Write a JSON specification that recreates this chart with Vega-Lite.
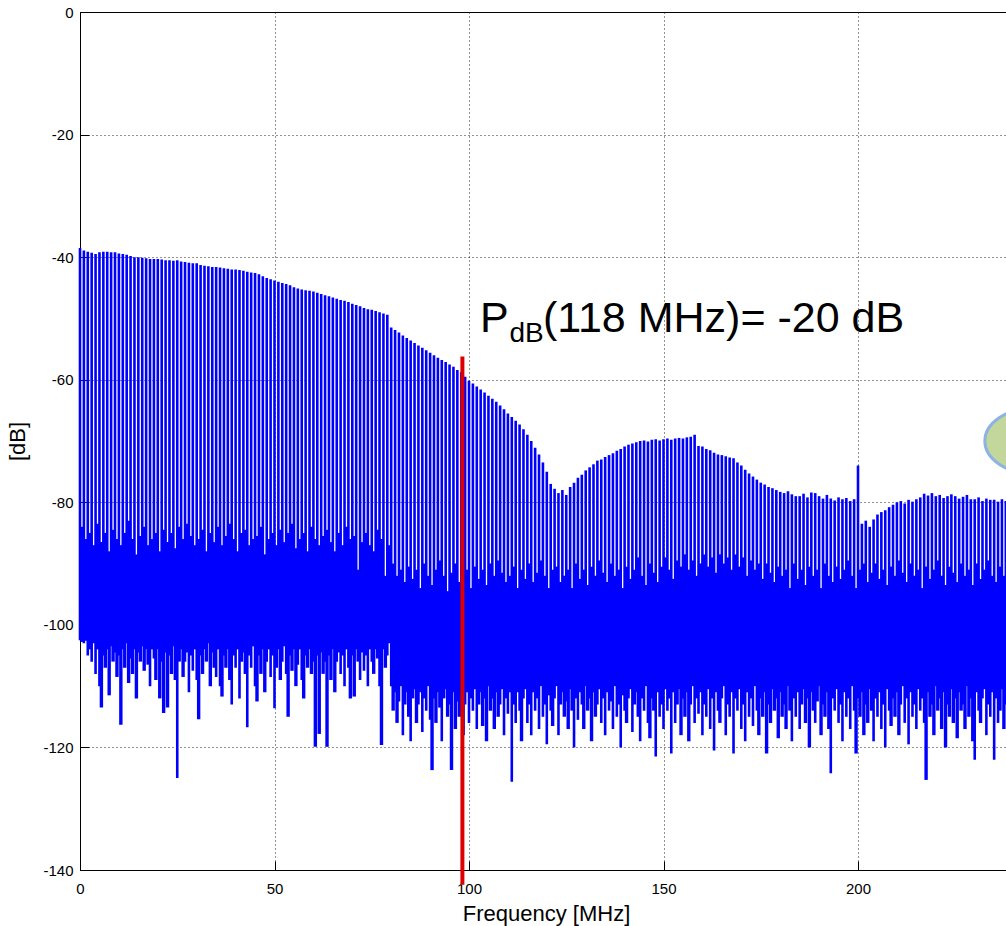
{
"$schema":"https://vega.github.io/schema/vega-lite/v6.json",
"width":927,"height":858,
"autosize":{"type":"none"},
"padding":{"left":80,"top":12,"right":0,"bottom":56},
"background":"white",
"datasets":{
"spectrum":[
{"f":0,"h":-38.5,"l":-102.5},{"f":0.5,"h":-84,"l":-102.8},{"f":1,"h":-38.9,"l":-103},{"f":1.5,"h":-86,"l":-102.6},{"f":2,"h":-39.1,"l":-105},{"f":2.5,"h":-85,"l":-104},{"f":3,"h":-39.3,"l":-106},{"f":3.5,"h":-87,"l":-103},{"f":4,"h":-39.5,"l":-108},{"f":4.5,"h":-83.5,"l":-104},
{"f":5,"h":-39.2,"l":-110},{"f":5.5,"h":-86.5,"l":-113.5},{"f":6,"h":-39.1,"l":-105},{"f":6.5,"h":-85,"l":-107},{"f":7,"h":-39.1,"l":-104},{"f":7.5,"h":-88,"l":-111.5},{"f":8,"h":-39.2,"l":-103.5},{"f":8.5,"h":-84.5,"l":-106},{"f":9,"h":-39.2,"l":-104.5},{"f":9.5,"h":-86,"l":-108.5},
{"f":10,"h":-39.4,"l":-105},{"f":10.5,"h":-87,"l":-116.3},{"f":11,"h":-39.5,"l":-104},{"f":11.5,"h":-85,"l":-107},{"f":12,"h":-39.6,"l":-103},{"f":12.5,"h":-83,"l":-109.5},{"f":13,"h":-39.8,"l":-105.5},{"f":13.5,"h":-86,"l":-108},{"f":14,"h":-40.0,"l":-104},{"f":14.5,"h":-88.5,"l":-112},
{"f":15,"h":-40.0,"l":-104.5},{"f":15.5,"h":-85.5,"l":-106},{"f":16,"h":-40.1,"l":-103.5},{"f":16.5,"h":-84,"l":-107.5},{"f":17,"h":-40.2,"l":-104},{"f":17.5,"h":-87,"l":-106.5},{"f":18,"h":-40.3,"l":-110},{"f":18.5,"h":-86,"l":-104},{"f":19,"h":-40.3,"l":-105.5},{"f":19.5,"h":-85,"l":-109},
{"f":20,"h":-40.3,"l":-104},{"f":20.5,"h":-88,"l":-112},{"f":21,"h":-40.4,"l":-106},{"f":21.5,"h":-84.5,"l":-114.4},{"f":22,"h":-40.5,"l":-104.5},{"f":22.5,"h":-86.5,"l":-113.5},{"f":23,"h":-40.5,"l":-105},{"f":23.5,"h":-85,"l":-108},{"f":24,"h":-40.6,"l":-103.5},{"f":24.5,"h":-87.5,"l":-109},
{"f":25,"h":-40.5,"l":-125},{"f":25.5,"h":-84,"l":-106},{"f":26,"h":-40.7,"l":-104},{"f":26.5,"h":-86,"l":-108.5},{"f":27,"h":-40.8,"l":-106},{"f":27.5,"h":-83.5,"l":-104.5},{"f":28,"h":-40.9,"l":-111},{"f":28.5,"h":-85.5,"l":-105},{"f":29,"h":-41.0,"l":-107.5},{"f":29.5,"h":-87,"l":-104},
{"f":30,"h":-41.0,"l":-109},{"f":30.5,"h":-86,"l":-115.4},{"f":31,"h":-41.3,"l":-105},{"f":31.5,"h":-84.5,"l":-108},{"f":32,"h":-41.4,"l":-104},{"f":32.5,"h":-88,"l":-106},{"f":33,"h":-41.5,"l":-103},{"f":33.5,"h":-85,"l":-110},{"f":34,"h":-41.6,"l":-104.5},{"f":34.5,"h":-86.5,"l":-107},
{"f":35,"h":-41.6,"l":-108.5},{"f":35.5,"h":-84,"l":-104},{"f":36,"h":-41.7,"l":-110},{"f":36.5,"h":-87,"l":-111.7},{"f":37,"h":-41.8,"l":-105},{"f":37.5,"h":-85.5,"l":-107},{"f":38,"h":-41.9,"l":-104},{"f":38.5,"h":-83.5,"l":-109},{"f":39,"h":-42.0,"l":-113},{"f":39.5,"h":-86,"l":-105},
{"f":40,"h":-42.0,"l":-107},{"f":40.5,"h":-88,"l":-104},{"f":41,"h":-42.1,"l":-112},{"f":41.5,"h":-85,"l":-106},{"f":42,"h":-42.2,"l":-104.5},{"f":42.5,"h":-84.5,"l":-108},{"f":43,"h":-42.4,"l":-116.7},{"f":43.5,"h":-87,"l":-105},{"f":44,"h":-42.5,"l":-107},{"f":44.5,"h":-86,"l":-103.5},
{"f":45,"h":-42.6,"l":-110},{"f":45.5,"h":-85.5,"l":-112.5},{"f":46,"h":-42.8,"l":-105},{"f":46.5,"h":-84,"l":-108},{"f":47,"h":-43.1,"l":-104},{"f":47.5,"h":-88.5,"l":-111},{"f":48,"h":-43.4,"l":-106},{"f":48.5,"h":-86,"l":-104},{"f":49,"h":-43.6,"l":-108.5},{"f":49.5,"h":-85,"l":-105},
{"f":50,"h":-43.8,"l":-113.6},{"f":50.5,"h":-87,"l":-107},{"f":51,"h":-44.0,"l":-104},{"f":51.5,"h":-84.5,"l":-109},{"f":52,"h":-44.2,"l":-106},{"f":52.5,"h":-86.5,"l":-103.5},{"f":53,"h":-44.4,"l":-108},{"f":53.5,"h":-85,"l":-115},{"f":54,"h":-44.6,"l":-105},{"f":54.5,"h":-83.5,"l":-107.5},
{"f":55,"h":-44.9,"l":-104},{"f":55.5,"h":-87.5,"l":-110},{"f":56,"h":-45.1,"l":-106.5},{"f":56.5,"h":-86,"l":-104},{"f":57,"h":-45.3,"l":-109},{"f":57.5,"h":-85,"l":-112},{"f":58,"h":-45.4,"l":-105},{"f":58.5,"h":-88,"l":-107},{"f":59,"h":-45.5,"l":-104},{"f":59.5,"h":-84,"l":-108},
{"f":60,"h":-45.6,"l":-106},{"f":60.5,"h":-86,"l":-119.9},{"f":61,"h":-45.8,"l":-105},{"f":61.5,"h":-87,"l":-117.8},{"f":62,"h":-46.0,"l":-104.5},{"f":62.5,"h":-85.5,"l":-108},{"f":63,"h":-46.2,"l":-106},{"f":63.5,"h":-84.5,"l":-119.9},{"f":64,"h":-46.4,"l":-105},{"f":64.5,"h":-86.5,"l":-109},
{"f":65,"h":-46.6,"l":-104},{"f":65.5,"h":-88,"l":-111},{"f":66,"h":-46.8,"l":-106},{"f":66.5,"h":-85,"l":-104.5},{"f":67,"h":-47.0,"l":-108},{"f":67.5,"h":-87,"l":-105},{"f":68,"h":-47.1,"l":-110},{"f":68.5,"h":-84,"l":-104},{"f":69,"h":-47.3,"l":-107},{"f":69.5,"h":-86,"l":-112},
{"f":70,"h":-47.6,"l":-105},{"f":70.5,"h":-85.5,"l":-111.7},{"f":71,"h":-47.8,"l":-104},{"f":71.5,"h":-91,"l":-106},{"f":72,"h":-48.0,"l":-109},{"f":72.5,"h":-86.5,"l":-104.5},{"f":73,"h":-48.3,"l":-107.5},{"f":73.5,"h":-85,"l":-105},{"f":74,"h":-48.5,"l":-110},{"f":74.5,"h":-87,"l":-104},
{"f":75,"h":-48.6,"l":-106},{"f":75.5,"h":-88,"l":-108},{"f":76,"h":-48.8,"l":-104},{"f":76.5,"h":-84.5,"l":-105.5},{"f":77,"h":-49.0,"l":-110},{"f":77.5,"h":-86,"l":-119.6},{"f":78,"h":-49.2,"l":-104},{"f":78.5,"h":-92,"l":-107},{"f":79,"h":-49.4,"l":-105},{"f":79.5,"h":-87,"l":-103},
{"f":80,"h":-51.5,"l":-110},{"f":80.5,"h":-90,"l":-114},{"f":81,"h":-51.9,"l":-111},{"f":81.5,"h":-92,"l":-116},{"f":82,"h":-52.3,"l":-112.5},{"f":82.5,"h":-91,"l":-110},{"f":83,"h":-52.8,"l":-118},{"f":83.5,"h":-93,"l":-113},{"f":84,"h":-53.2,"l":-111},{"f":84.5,"h":-90.5,"l":-115},
{"f":85,"h":-53.6,"l":-119},{"f":85.5,"h":-92.5,"l":-112},{"f":86,"h":-54.0,"l":-110.5},{"f":86.5,"h":-91,"l":-116},{"f":87,"h":-54.4,"l":-113},{"f":87.5,"h":-94,"l":-111},{"f":88,"h":-54.8,"l":-117.5},{"f":88.5,"h":-90,"l":-112},{"f":89,"h":-55.2,"l":-114},{"f":89.5,"h":-92,"l":-110},
{"f":90,"h":-55.6,"l":-115.5},{"f":90.5,"h":-93.5,"l":-123.7},{"f":91,"h":-56.0,"l":-112},{"f":91.5,"h":-91,"l":-116},{"f":92,"h":-56.4,"l":-111},{"f":92.5,"h":-89.5,"l":-113.5},{"f":93,"h":-56.8,"l":-119},{"f":93.5,"h":-92,"l":-112},{"f":94,"h":-57.1,"l":-110.5},{"f":94.5,"h":-94.5,"l":-115},
{"f":95,"h":-57.5,"l":-113},{"f":95.5,"h":-91.5,"l":-123.7},{"f":96,"h":-57.9,"l":-111},{"f":96.5,"h":-90,"l":-117},{"f":97,"h":-58.4,"l":-112.5},{"f":97.5,"h":-93,"l":-115},{"f":98,"h":-58.8,"l":-110},{"f":98.5,"h":-92,"l":-118},{"f":99,"h":-59.5,"l":-113},{"f":99.5,"h":-91,"l":-111},
{"f":100,"h":-60.2,"l":-116},{"f":100.5,"h":-94,"l":-112},{"f":101,"h":-60.6,"l":-114},{"f":101.5,"h":-90.5,"l":-110.5},{"f":102,"h":-61.1,"l":-117},{"f":102.5,"h":-92.5,"l":-113},{"f":103,"h":-61.6,"l":-111},{"f":103.5,"h":-91,"l":-116.5},{"f":104,"h":-62.1,"l":-112},{"f":104.5,"h":-93.5,"l":-119},
{"f":105,"h":-62.6,"l":-110},{"f":105.5,"h":-90,"l":-114},{"f":106,"h":-63.1,"l":-112},{"f":106.5,"h":-92,"l":-117},{"f":107,"h":-63.6,"l":-111},{"f":107.5,"h":-89.5,"l":-115},{"f":108,"h":-64.2,"l":-113},{"f":108.5,"h":-91.5,"l":-110.5},{"f":109,"h":-64.8,"l":-118},{"f":109.5,"h":-93,"l":-112},
{"f":110,"h":-65.5,"l":-114.5},{"f":110.5,"h":-92,"l":-111},{"f":111,"h":-66.1,"l":-125.6},{"f":111.5,"h":-90.5,"l":-113},{"f":112,"h":-66.7,"l":-116},{"f":112.5,"h":-94,"l":-111},{"f":113,"h":-67.3,"l":-114},{"f":113.5,"h":-91,"l":-119},{"f":114,"h":-68.1,"l":-112},{"f":114.5,"h":-92.5,"l":-110.5},
{"f":115,"h":-69.0,"l":-116},{"f":115.5,"h":-90,"l":-113},{"f":116,"h":-70.0,"l":-118},{"f":116.5,"h":-93,"l":-111},{"f":117,"h":-71.1,"l":-114},{"f":117.5,"h":-91.5,"l":-112},{"f":118,"h":-72.2,"l":-117},{"f":118.5,"h":-89.5,"l":-110},{"f":119,"h":-73.5,"l":-115},{"f":119.5,"h":-92,"l":-113},
{"f":120,"h":-75.0,"l":-119.5},{"f":120.5,"h":-94,"l":-111.5},{"f":121,"h":-77.0,"l":-114},{"f":121.5,"h":-91,"l":-116.5},{"f":122,"h":-77.8,"l":-112},{"f":122.5,"h":-90.5,"l":-110},{"f":123,"h":-78.5,"l":-118},{"f":123.5,"h":-93,"l":-113},{"f":124,"h":-78.0,"l":-111},{"f":124.5,"h":-92,"l":-115},
{"f":125,"h":-78.8,"l":-112.5},{"f":125.5,"h":-91,"l":-117},{"f":126,"h":-77.5,"l":-110.5},{"f":126.5,"h":-94,"l":-114},{"f":127,"h":-76.8,"l":-120},{"f":127.5,"h":-90,"l":-112},{"f":128,"h":-76.0,"l":-115.5},{"f":128.5,"h":-92.5,"l":-111},{"f":129,"h":-75.5,"l":-113},{"f":129.5,"h":-91,"l":-117},
{"f":130,"h":-74.8,"l":-110},{"f":130.5,"h":-93.5,"l":-114},{"f":131,"h":-74.3,"l":-112},{"f":131.5,"h":-90.5,"l":-119},{"f":132,"h":-73.8,"l":-111},{"f":132.5,"h":-92,"l":-115},{"f":133,"h":-73.2,"l":-113},{"f":133.5,"h":-89.5,"l":-110.5},{"f":134,"h":-73.0,"l":-116},{"f":134.5,"h":-91.5,"l":-112},
{"f":135,"h":-72.6,"l":-118},{"f":135.5,"h":-93,"l":-111},{"f":136,"h":-72.3,"l":-114},{"f":136.5,"h":-90,"l":-112.5},{"f":137,"h":-72.0,"l":-117},{"f":137.5,"h":-92,"l":-110},{"f":138,"h":-71.6,"l":-115},{"f":138.5,"h":-91,"l":-113},{"f":139,"h":-71.3,"l":-120},{"f":139.5,"h":-94,"l":-111.5},
{"f":140,"h":-70.9,"l":-114},{"f":140.5,"h":-90.5,"l":-116},{"f":141,"h":-70.6,"l":-112},{"f":141.5,"h":-92.5,"l":-110.5},{"f":142,"h":-70.4,"l":-117.5},{"f":142.5,"h":-91,"l":-113},{"f":143,"h":-70.2,"l":-111},{"f":143.5,"h":-89,"l":-115},{"f":144,"h":-70.0,"l":-119},{"f":144.5,"h":-92,"l":-112},
{"f":145,"h":-69.9,"l":-114},{"f":145.5,"h":-93.5,"l":-110},{"f":146,"h":-70.1,"l":-116},{"f":146.5,"h":-90,"l":-118.5},{"f":147,"h":-69.8,"l":-112},{"f":147.5,"h":-91.5,"l":-114},{"f":148,"h":-69.7,"l":-121.5},{"f":148.5,"h":-93,"l":-111},{"f":149,"h":-69.9,"l":-115},{"f":149.5,"h":-90.5,"l":-113},
{"f":150,"h":-69.7,"l":-117},{"f":150.5,"h":-89,"l":-110.5},{"f":151,"h":-69.6,"l":-114},{"f":151.5,"h":-91,"l":-112},{"f":152,"h":-69.8,"l":-121},{"f":152.5,"h":-92.5,"l":-111},{"f":153,"h":-69.6,"l":-116},{"f":153.5,"h":-89.5,"l":-113},{"f":154,"h":-69.5,"l":-110.5},{"f":154.5,"h":-90.5,"l":-118},
{"f":155,"h":-69.6,"l":-112},{"f":155.5,"h":-88.5,"l":-115},{"f":156,"h":-69.4,"l":-111},{"f":156.5,"h":-91,"l":-119},{"f":157,"h":-69.3,"l":-113},{"f":157.5,"h":-89.5,"l":-110},{"f":158,"h":-69.0,"l":-116},{"f":158.5,"h":-92,"l":-112},{"f":159,"h":-70.8,"l":-114.5},{"f":159.5,"h":-90,"l":-111},
{"f":160,"h":-70.9,"l":-118},{"f":160.5,"h":-88.5,"l":-113},{"f":161,"h":-71.3,"l":-115},{"f":161.5,"h":-90.5,"l":-110.5},{"f":162,"h":-71.5,"l":-117},{"f":162.5,"h":-89,"l":-112},{"f":163,"h":-71.9,"l":-120.5},{"f":163.5,"h":-91.5,"l":-111},{"f":164,"h":-72.2,"l":-114},{"f":164.5,"h":-88.5,"l":-116},
{"f":165,"h":-72.3,"l":-112},{"f":165.5,"h":-90,"l":-110},{"f":166,"h":-72.5,"l":-118},{"f":166.5,"h":-89,"l":-113},{"f":167,"h":-72.7,"l":-115},{"f":167.5,"h":-91,"l":-111},{"f":168,"h":-72.8,"l":-121},{"f":168.5,"h":-88.5,"l":-112},{"f":169,"h":-73.5,"l":-114},{"f":169.5,"h":-90.5,"l":-110.5},
{"f":170,"h":-74.0,"l":-117},{"f":170.5,"h":-89,"l":-113},{"f":171,"h":-74.7,"l":-119},{"f":171.5,"h":-92,"l":-111},{"f":172,"h":-75.3,"l":-115},{"f":172.5,"h":-89.5,"l":-112},{"f":173,"h":-75.8,"l":-116.5},{"f":173.5,"h":-91,"l":-110},{"f":174,"h":-76.3,"l":-114},{"f":174.5,"h":-90,"l":-118},
{"f":175,"h":-76.8,"l":-112},{"f":175.5,"h":-92.5,"l":-115},{"f":176,"h":-77.1,"l":-111},{"f":176.5,"h":-90,"l":-121},{"f":177,"h":-77.5,"l":-113},{"f":177.5,"h":-91.5,"l":-116},{"f":178,"h":-77.7,"l":-110.5},{"f":178.5,"h":-93,"l":-114},{"f":179,"h":-78.0,"l":-112},{"f":179.5,"h":-90.5,"l":-118.5},
{"f":180,"h":-78.3,"l":-111},{"f":180.5,"h":-92,"l":-115},{"f":181,"h":-78.5,"l":-113},{"f":181.5,"h":-91,"l":-117},{"f":182,"h":-78.2,"l":-110},{"f":182.5,"h":-94,"l":-114},{"f":183,"h":-78.7,"l":-119},{"f":183.5,"h":-90,"l":-112},{"f":184,"h":-79.0,"l":-115},{"f":184.5,"h":-92.5,"l":-111},
{"f":185,"h":-79.0,"l":-117},{"f":185.5,"h":-91,"l":-113},{"f":186,"h":-78.6,"l":-110.5},{"f":186.5,"h":-93.5,"l":-116},{"f":187,"h":-79.2,"l":-112},{"f":187.5,"h":-90.5,"l":-120},{"f":188,"h":-78.4,"l":-111},{"f":188.5,"h":-92,"l":-114},{"f":189,"h":-78.5,"l":-116},{"f":189.5,"h":-91,"l":-112.5},
{"f":190,"h":-79.0,"l":-110},{"f":190.5,"h":-94,"l":-118},{"f":191,"h":-79.4,"l":-113},{"f":191.5,"h":-90,"l":-115},{"f":192,"h":-78.8,"l":-111},{"f":192.5,"h":-92,"l":-117},{"f":193,"h":-79.4,"l":-124.2},{"f":193.5,"h":-93,"l":-112},{"f":194,"h":-79.7,"l":-114},{"f":194.5,"h":-90.5,"l":-110.5},
{"f":195,"h":-79.2,"l":-116},{"f":195.5,"h":-92.5,"l":-113},{"f":196,"h":-79.5,"l":-119},{"f":196.5,"h":-91,"l":-111},{"f":197,"h":-79.3,"l":-115},{"f":197.5,"h":-89.5,"l":-112},{"f":198,"h":-79.8,"l":-117},{"f":198.5,"h":-92,"l":-110},{"f":199,"h":-79.5,"l":-114},{"f":199.5,"h":-94,"l":-121},
{"f":200,"h":-74.0,"l":-112},{"f":200.5,"h":-91,"l":-115},{"f":201,"h":-83.5,"l":-111},{"f":201.5,"h":-90,"l":-118},{"f":202,"h":-83.0,"l":-113},{"f":202.5,"h":-93,"l":-116},{"f":203,"h":-84.0,"l":-110.5},{"f":203.5,"h":-91.5,"l":-114},{"f":204,"h":-82.8,"l":-119},{"f":204.5,"h":-90,"l":-112},
{"f":205,"h":-82.0,"l":-115},{"f":205.5,"h":-92.5,"l":-111},{"f":206,"h":-81.6,"l":-117},{"f":206.5,"h":-91,"l":-113},{"f":207,"h":-81.3,"l":-120},{"f":207.5,"h":-93.5,"l":-110.5},{"f":208,"h":-80.8,"l":-114},{"f":208.5,"h":-90.5,"l":-116.5},{"f":209,"h":-80.4,"l":-112},{"f":209.5,"h":-92,"l":-115},
{"f":210,"h":-80.0,"l":-111},{"f":210.5,"h":-89.5,"l":-118},{"f":211,"h":-79.8,"l":-113},{"f":211.5,"h":-91.5,"l":-110},{"f":212,"h":-80.2,"l":-116},{"f":212.5,"h":-93,"l":-112},{"f":213,"h":-79.6,"l":-119.5},{"f":213.5,"h":-90,"l":-111},{"f":214,"h":-79.9,"l":-115},{"f":214.5,"h":-92,"l":-113},
{"f":215,"h":-79.5,"l":-117},{"f":215.5,"h":-91,"l":-110.5},{"f":216,"h":-79.2,"l":-114},{"f":216.5,"h":-94,"l":-112},{"f":217,"h":-78.6,"l":-116},{"f":217.5,"h":-90.5,"l":-125.3},{"f":218,"h":-78.9,"l":-111},{"f":218.5,"h":-92.5,"l":-115},{"f":219,"h":-78.5,"l":-113},{"f":219.5,"h":-91,"l":-118},
{"f":220,"h":-79.0,"l":-110},{"f":220.5,"h":-89.5,"l":-114},{"f":221,"h":-78.8,"l":-112},{"f":221.5,"h":-92,"l":-117},{"f":222,"h":-79.3,"l":-111},{"f":222.5,"h":-93.5,"l":-120},{"f":223,"h":-79.0,"l":-113},{"f":223.5,"h":-90.5,"l":-115},{"f":224,"h":-78.7,"l":-110.5},{"f":224.5,"h":-91.5,"l":-116},
{"f":225,"h":-79.0,"l":-112},{"f":225.5,"h":-93,"l":-118.5},{"f":226,"h":-79.4,"l":-111},{"f":226.5,"h":-90,"l":-114},{"f":227,"h":-79.1,"l":-113},{"f":227.5,"h":-92,"l":-117},{"f":228,"h":-78.8,"l":-110},{"f":228.5,"h":-91,"l":-115},{"f":229,"h":-79.5,"l":-112},{"f":229.5,"h":-93.5,"l":-119},
{"f":230,"h":-79.5,"l":-122},{"f":230.5,"h":-90,"l":-111},{"f":231,"h":-79.2,"l":-114},{"f":231.5,"h":-92.5,"l":-116},{"f":232,"h":-79.8,"l":-112},{"f":232.5,"h":-91,"l":-110.5},{"f":233,"h":-79.4,"l":-118},{"f":233.5,"h":-89.5,"l":-113},{"f":234,"h":-79.6,"l":-115},{"f":234.5,"h":-92,"l":-111},
{"f":235,"h":-79.6,"l":-122},{"f":235.5,"h":-93,"l":-112},{"f":236,"h":-79.9,"l":-116},{"f":236.5,"h":-90.5,"l":-114},{"f":237,"h":-79.5,"l":-110.5},{"f":237.5,"h":-92,"l":-117},{"f":238,"h":-79.8,"l":-113},{"f":238.5,"h":-91,"l":-111}
],
"marker":[{"f":98.3,"top":-56.2,"bottom":-142.4}],
"notes":[
{"f":102.8,"db":-52.2,"t":"P"},
{"f":110.4,"db":-53.8,"t":"dB"},
{"f":119.0,"db":-52.2,"t":"(118 MHz)= -20 dB"}
],
"shape":[{"f":245.2,"db":-70}]
},
"layer":[
{"data":{"name":"spectrum"},"transform":[{"filter":"datum.f % 1 == 0"}],
 "mark":{"type":"rule","color":"#0000ff","strokeWidth":2.6},
 "encoding":{
  "x":{"field":"f","type":"quantitative","scale":{"domain":[0,238.3],"nice":false,"zero":false},
   "axis":{"values":[0,50,100,150,200],"title":"Frequency [MHz]","labelPadding":20,"labelFlush":false,"labelOverlap":false,"labelExpr":"'' + datum.value","titleX":466,"titleY":50,"titleBaseline":"alphabetic","titleAlign":"center","titleAnchor":null}},
  "y":{"field":"h","type":"quantitative","scale":{"domain":[-140,0],"nice":false,"zero":false},
   "axis":{"values":[-140,-120,-100,-80,-60,-40,-20,0],"title":"[dB]","labelPadding":16,"labelFlush":false,"labelOverlap":false,"labelExpr":"'' + datum.value","titleX":-56,"titleY":429,"titleAngle":270,"titleBaseline":"alphabetic","titleAlign":"center","titleAnchor":null}},
  "y2":{"field":"l"}
 }},
{"data":{"name":"spectrum"},"transform":[{"filter":"datum.f % 1 != 0"}],
 "mark":{"type":"rule","color":"#0000ff","strokeWidth":3.4},
 "encoding":{"x":{"field":"f","type":"quantitative"},"y":{"field":"h","type":"quantitative"},"y2":{"field":"l"}}},
{"data":{"name":"marker"},
 "mark":{"type":"rule","color":"#dd0000","strokeWidth":4,"clip":false},
 "encoding":{"x":{"field":"f","type":"quantitative"},"y":{"field":"top","type":"quantitative"},"y2":{"field":"bottom"}}},
{"data":{"name":"notes"},"transform":[{"filter":"datum.t == 'P'"}],
 "mark":{"type":"text","align":"left","baseline":"alphabetic","fontSize":43,"font":"Liberation Sans","color":"#000"},
 "encoding":{"x":{"field":"f","type":"quantitative"},"y":{"field":"db","type":"quantitative"},"text":{"field":"t"}}},
{"data":{"name":"notes"},"transform":[{"filter":"datum.t == 'dB'"}],
 "mark":{"type":"text","align":"left","baseline":"alphabetic","fontSize":28,"font":"Liberation Sans","color":"#000"},
 "encoding":{"x":{"field":"f","type":"quantitative"},"y":{"field":"db","type":"quantitative"},"text":{"field":"t"}}},
{"data":{"name":"notes"},"transform":[{"filter":"datum.t != 'P' && datum.t != 'dB'"}],
 "mark":{"type":"text","align":"left","baseline":"alphabetic","fontSize":43,"font":"Liberation Sans","color":"#000"},
 "encoding":{"x":{"field":"f","type":"quantitative"},"y":{"field":"db","type":"quantitative"},"text":{"field":"t"}}},
{"data":{"name":"shape"},
 "mark":{"type":"point","shape":"M-1,0A1,0.67,0,1,1,1,0A1,0.67,0,1,1,-1,0Z","size":9604,"filled":true,"fill":"#c3d69b","stroke":"#8db3e2","strokeWidth":3,"opacity":1,"fillOpacity":1,"strokeOpacity":1},
 "encoding":{"x":{"field":"f","type":"quantitative"},"y":{"field":"db","type":"quantitative"}}}
],
"config":{
 "view":{"stroke":"#000","strokeWidth":1},
 "axis":{"domainColor":"#000","domainWidth":1,"tickColor":"#000","tickSize":-9,"tickWidth":1,"labelColor":"#000","labelFont":"Liberation Sans","labelFontSize":15,"titleFont":"Liberation Sans","titleFontSize":22,"titleFontWeight":"normal","titleColor":"#000","grid":true,"gridColor":"#000","gridDash":[1,3],"gridOpacity":0.85,"gridWidth":1,"zindex":1}
}
}
